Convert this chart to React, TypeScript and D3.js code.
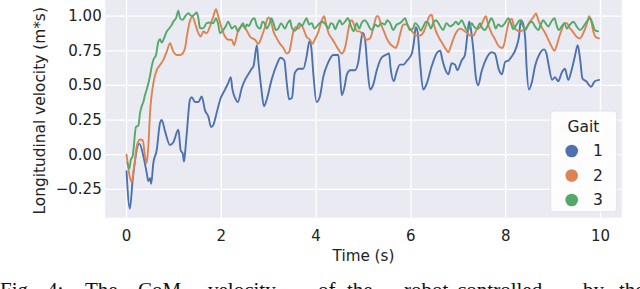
import React from 'react';
import * as d3 from 'd3';

// Gait 1..3 longitudinal CoM velocity, [time (s), velocity]
const gait1: [number, number][] = [
  [0.0, -0.12], [0.07, -0.39], [0.13, -0.18], [0.27, 0.08], [0.355, -0.01], [0.425, -0.13],
  [0.46, -0.19], [0.5, -0.17], [0.52, -0.21], [0.566, -0.06], [0.636, 0.03], [0.707, 0.23],
  [0.742, 0.25], [0.812, 0.17], [0.918, 0.07], [0.988, 0.09], [1.094, 0.18], [1.143, 0.03],
  [1.185, 0.01], [1.213, -0.05], [1.234, 0.01], [1.27, 0.15], [1.34, 0.4], [1.375, 0.415],
  [1.445, 0.38], [1.515, 0.38], [1.586, 0.42], [1.656, 0.32], [1.727, 0.275], [1.783, 0.2],
  [1.832, 0.215], [1.9, 0.3], [1.973, 0.395], [2.078, 0.47], [2.15, 0.52], [2.2, 0.56],
  [2.23, 0.48], [2.29, 0.41], [2.35, 0.38], [2.43, 0.48], [2.5, 0.54], [2.57, 0.58],
  [2.64, 0.62], [2.68, 0.64], [2.75, 0.79], [2.78, 0.68], [2.84, 0.49], [2.9, 0.35],
  [2.96, 0.4], [3.06, 0.54], [3.17, 0.65], [3.25, 0.7], [3.33, 0.68], [3.38, 0.52],
  [3.43, 0.4], [3.49, 0.41], [3.55, 0.59], [3.64, 0.62], [3.73, 0.62], [3.8, 0.71],
  [3.86, 0.82], [3.9, 0.77], [3.94, 0.59], [4.01, 0.38], [4.08, 0.42], [4.15, 0.56],
  [4.26, 0.67], [4.36, 0.72], [4.47, 0.72], [4.5, 0.61], [4.54, 0.43], [4.6, 0.49],
  [4.65, 0.58], [4.72, 0.61], [4.82, 0.61], [4.89, 0.67], [4.94, 0.8], [4.98, 0.88],
  [5.03, 0.84], [5.08, 0.64], [5.14, 0.47], [5.2, 0.5], [5.28, 0.61], [5.38, 0.7],
  [5.47, 0.72], [5.54, 0.73], [5.57, 0.63], [5.64, 0.53], [5.7, 0.6], [5.77, 0.65],
  [5.84, 0.65], [5.92, 0.68], [6.02, 0.73], [6.07, 0.83], [6.1, 0.92], [6.14, 0.89],
  [6.19, 0.68], [6.26, 0.47], [6.33, 0.51], [6.44, 0.64], [6.56, 0.74], [6.62, 0.75],
  [6.66, 0.69], [6.71, 0.63], [6.79, 0.58], [6.86, 0.66], [6.93, 0.65], [6.98, 0.61],
  [7.07, 0.68], [7.14, 0.72], [7.19, 0.86], [7.23, 0.96], [7.26, 0.92], [7.32, 0.75],
  [7.37, 0.56], [7.42, 0.5], [7.49, 0.6], [7.6, 0.7], [7.7, 0.74], [7.77, 0.73],
  [7.86, 0.61], [7.92, 0.58], [7.99, 0.67], [8.06, 0.68], [8.13, 0.71], [8.23, 0.78],
  [8.28, 0.85], [8.32, 0.97], [8.35, 0.96], [8.41, 0.85], [8.44, 0.64], [8.49, 0.47],
  [8.55, 0.52], [8.62, 0.64], [8.72, 0.73], [8.81, 0.76], [8.86, 0.73], [8.91, 0.64],
  [8.98, 0.54], [9.04, 0.56], [9.11, 0.53], [9.18, 0.59], [9.25, 0.62], [9.32, 0.54],
  [9.39, 0.61], [9.46, 0.71], [9.52, 0.79], [9.57, 0.69], [9.62, 0.55], [9.7, 0.53],
  [9.8, 0.49], [9.88, 0.53], [9.97, 0.54],
];

const gait2: [number, number][] = [
  [0.0, 0.0], [0.109, -0.195], [0.158, -0.09], [0.215, 0.06], [0.285, 0.11], [0.341, 0.105],
  [0.39, -0.01], [0.426, -0.06], [0.46, 0.06], [0.496, 0.3], [0.566, 0.515], [0.637, 0.61],
  [0.707, 0.648], [0.777, 0.684], [0.848, 0.744], [0.918, 0.804], [0.988, 0.744], [1.058, 0.72],
  [1.129, 0.72], [1.185, 0.732], [1.234, 0.768], [1.284, 0.877], [1.34, 0.968], [1.396, 0.997],
  [1.445, 0.949], [1.516, 0.877], [1.565, 0.853], [1.62, 0.889], [1.69, 0.877], [1.76, 0.925],
  [1.83, 0.997], [1.888, 1.05], [1.937, 0.997], [2.008, 0.913], [2.078, 0.853], [2.15, 0.83],
  [2.22, 0.83], [2.27, 0.79], [2.32, 0.85], [2.37, 0.91], [2.46, 0.93], [2.53, 0.9],
  [2.61, 0.85], [2.71, 0.83], [2.78, 0.8], [2.84, 0.84], [2.92, 0.92], [2.99, 0.99],
  [3.05, 0.96], [3.1, 0.89], [3.17, 0.84], [3.24, 0.8], [3.31, 0.77], [3.38, 0.73],
  [3.43, 0.74], [3.47, 0.8], [3.52, 0.89], [3.57, 0.92], [3.63, 0.91], [3.68, 0.94],
  [3.73, 0.91], [3.8, 0.85], [3.87, 0.83], [3.92, 0.8], [3.97, 0.83], [4.05, 0.89],
  [4.12, 0.97], [4.17, 1.0], [4.2, 0.96], [4.26, 0.88], [4.33, 0.84], [4.4, 0.8],
  [4.47, 0.76], [4.54, 0.73], [4.6, 0.76], [4.65, 0.84], [4.69, 0.92], [4.75, 0.97],
  [4.82, 0.92], [4.87, 0.89], [4.92, 0.89], [4.99, 0.86], [5.07, 0.83], [5.14, 0.84],
  [5.21, 0.92], [5.28, 1.0], [5.31, 1.0], [5.36, 0.95], [5.42, 0.9], [5.49, 0.84],
  [5.56, 0.8], [5.63, 0.78], [5.68, 0.77], [5.73, 0.81], [5.78, 0.88], [5.84, 0.94],
  [5.91, 0.94], [5.98, 0.91], [6.05, 0.88], [6.12, 0.86], [6.19, 0.86], [6.26, 0.88],
  [6.33, 0.94], [6.39, 1.0], [6.44, 1.01], [6.47, 0.96], [6.53, 0.89], [6.6, 0.84],
  [6.67, 0.8], [6.74, 0.76], [6.79, 0.74], [6.84, 0.78], [6.9, 0.84], [6.97, 0.89],
  [7.04, 0.91], [7.1, 0.9], [7.18, 0.88], [7.25, 0.86], [7.32, 0.86], [7.38, 0.9],
  [7.46, 0.92], [7.53, 0.97], [7.58, 1.0], [7.63, 0.94], [7.7, 0.88], [7.78, 0.83],
  [7.84, 0.79], [7.92, 0.77], [7.97, 0.8], [8.02, 0.89], [8.08, 0.97], [8.13, 0.98],
  [8.18, 0.92], [8.23, 0.9], [8.3, 0.89], [8.37, 0.9], [8.44, 0.92], [8.51, 0.96],
  [8.58, 0.99], [8.64, 1.02], [8.69, 0.97], [8.76, 0.92], [8.83, 0.88], [8.9, 0.83],
  [8.97, 0.78], [9.03, 0.75], [9.07, 0.78], [9.12, 0.84], [9.18, 0.9], [9.24, 0.95],
  [9.29, 0.95], [9.34, 0.92], [9.41, 0.89], [9.5, 0.85], [9.57, 0.84], [9.64, 0.88],
  [9.71, 0.94], [9.76, 1.0], [9.8, 0.97], [9.85, 0.89], [9.9, 0.85], [9.97, 0.84],
];

const gait3: [number, number][] = [
  [0.018, -0.06], [0.06, -0.1], [0.088, -0.04], [0.13, -0.01], [0.2, 0.2], [0.25, 0.21],
  [0.285, 0.3], [0.32, 0.35], [0.355, 0.38], [0.39, 0.43], [0.426, 0.47], [0.461, 0.515],
  [0.496, 0.57], [0.531, 0.636], [0.566, 0.684], [0.622, 0.72], [0.672, 0.816], [0.707, 0.833],
  [0.742, 0.809], [0.791, 0.84], [0.848, 0.889], [0.904, 0.913], [0.953, 0.937], [0.988, 0.961],
  [1.044, 0.985], [1.094, 1.04], [1.129, 0.985], [1.185, 0.973], [1.234, 0.997], [1.305, 1.021],
  [1.375, 1.0], [1.445, 1.016], [1.48, 1.026], [1.516, 0.985], [1.55, 0.913], [1.62, 0.913],
  [1.69, 0.949], [1.76, 0.954], [1.83, 0.949], [1.888, 0.985], [1.937, 0.937], [1.973, 0.877],
  [2.043, 0.901], [2.113, 0.94], [2.14, 0.96], [2.18, 0.94], [2.22, 0.91], [2.29, 0.93],
  [2.35, 0.89], [2.42, 0.93], [2.46, 0.95], [2.5, 0.91], [2.535, 0.94], [2.585, 0.93],
  [2.64, 0.97], [2.7, 0.985], [2.75, 0.93], [2.82, 0.91], [2.87, 0.96], [2.91, 0.95],
  [2.96, 0.91], [3.01, 0.94], [3.06, 0.985], [3.1, 0.95], [3.15, 0.9], [3.2, 0.91],
  [3.26, 0.95], [3.31, 0.925], [3.34, 0.91], [3.4, 0.95], [3.45, 0.97], [3.48, 0.925],
  [3.54, 0.895], [3.59, 0.91], [3.64, 0.95], [3.7, 0.93], [3.77, 0.97], [3.8, 0.985],
  [3.85, 0.94], [3.91, 0.95], [3.96, 0.91], [4.05, 0.94], [4.12, 0.96], [4.19, 0.945],
  [4.26, 0.91], [4.31, 0.95], [4.36, 0.94], [4.4, 0.905], [4.46, 0.95], [4.5, 0.97],
  [4.55, 0.94], [4.61, 0.96], [4.67, 0.985], [4.74, 0.925], [4.79, 0.89], [4.855, 0.95],
  [4.91, 0.91], [4.96, 0.95], [5.03, 0.97], [5.08, 0.95], [5.14, 0.91], [5.19, 0.9],
  [5.24, 0.94], [5.31, 0.925], [5.38, 0.95], [5.45, 0.94], [5.5, 0.97], [5.56, 0.95],
  [5.63, 0.9], [5.7, 0.94], [5.77, 0.95], [5.83, 0.97], [5.875, 0.985], [5.925, 0.94],
  [5.98, 0.9], [6.04, 0.91], [6.09, 0.95], [6.16, 0.925], [6.21, 0.895], [6.26, 0.925],
  [6.32, 0.96], [6.37, 0.95], [6.42, 0.91], [6.47, 0.95], [6.53, 0.97], [6.58, 0.95],
  [6.63, 0.92], [6.68, 0.9], [6.75, 0.95], [6.825, 0.925], [6.895, 0.94], [6.95, 0.96],
  [7.0, 0.94], [7.07, 0.97], [7.12, 0.94], [7.18, 0.9], [7.23, 0.91], [7.28, 0.95],
  [7.33, 0.925], [7.39, 0.91], [7.46, 0.95], [7.49, 0.925], [7.56, 0.9], [7.63, 0.94],
  [7.7, 0.985], [7.74, 0.96], [7.79, 0.91], [7.84, 0.94], [7.91, 0.925], [7.985, 0.95],
  [8.055, 0.985], [8.11, 0.95], [8.16, 0.905], [8.23, 0.94], [8.3, 0.97], [8.37, 0.925],
  [8.42, 0.9], [8.48, 0.94], [8.55, 0.96], [8.62, 0.925], [8.69, 0.9], [8.74, 0.94],
  [8.79, 0.97], [8.84, 0.95], [8.9, 0.925], [8.96, 0.96], [9.03, 0.985], [9.07, 0.94],
  [9.12, 0.9], [9.18, 0.925], [9.24, 0.95], [9.29, 0.91], [9.36, 0.94], [9.43, 0.96],
  [9.5, 0.925], [9.57, 0.9], [9.64, 0.925], [9.71, 0.96], [9.78, 0.985], [9.83, 0.95],
  [9.88, 0.9], [9.95, 0.89],
];

const seriesNames = ['1', '2', '3'];
const seriesColors = ['#4C72B0', '#DD8452', '#55A868'];
const xTicks = [0, 2, 4, 6, 8, 10];
const yTicks = [-0.25, 0, 0.25, 0.5, 0.75, 1.0];
const captionWords = ['Fig.', '4:', 'The', 'CoM', 'velocity', 'of', 'the', 'robot', 'controlled', 'by', 'the'];
const captionX = [0, 47, 85, 138, 208, 318, 347, 404, 457, 583, 619];

const W = 640;
const H = 289;
const font = '"DejaVu Sans", sans-serif';

const App: React.FC = () => {
  const x = d3.scaleLinear().domain([-0.45, 10.45]).range([105.2, 621.8]);
  const y = d3.scaleLinear().domain([-0.455, 1.16]).range([217.7, -6]);
  const [x0, x1] = x.range();
  const [yb, yt] = y.range();

  const line = d3.line<[number, number]>()
    .x(d => x(d[0]))
    .y(d => y(d[1]))
    .curve(d3.curveMonotoneX);

  const allSeries = [gait1, gait2, gait3];

  return (
    <svg width={W} height={H} style={{ position: 'absolute', left: 0, top: 0, background: '#fff' }}>
      {/* plot background */}
      <rect x={x0} y={yt} width={x1 - x0} height={yb - yt} fill="#EAEAF2" />
      {xTicks.map(t => (
        <line key={'gx' + t} x1={x(t)} x2={x(t)} y1={yt} y2={yb} stroke="#fff" strokeWidth={1.3} />
      ))}
      {yTicks.map(t => (
        <line key={'gy' + t} x1={x0} x2={x1} y1={y(t)} y2={y(t)} stroke="#fff" strokeWidth={1.3} />
      ))}

      {allSeries.map((s, i) => (
        <path key={'s' + i} d={line(s) || ''} fill="none" stroke={seriesColors[i]}
          strokeWidth={1.9} strokeLinejoin="round" strokeLinecap="round" />
      ))}

      {/* tick labels */}
      {xTicks.map(t => (
        <text key={'tx' + t} x={x(t)} y={240.7} textAnchor="middle" fontFamily={font} fontSize={15} fill="#222">
          {t}
        </text>
      ))}
      {yTicks.map(t => (
        <text key={'ty' + t} x={101.7} y={y(t)} dy="0.33em" textAnchor="end" fontFamily={font} fontSize={15} fill="#222">
          {d3.format('.2f')(t)}
        </text>
      ))}

      {/* axis labels */}
      <text x={(x0 + x1) / 2} y={261} textAnchor="middle" fontFamily={font} fontSize={15.2} fill="#222">
        Time (s)
      </text>
      <text transform={`translate(44.5, ${(yb + 0) / 2 + 2}) rotate(-90)`} textAnchor="middle"
        fontFamily={font} fontSize={15.4} fill="#222">
        Longitudinal velocity (m*s)
      </text>

      {/* legend */}
      <g>
        <rect x={550.7} y={111} width={66} height={100.7} rx={3} fill="#fff" fillOpacity={0.9} stroke="#ddd" strokeWidth={0.8} />
        <text x={583.5} y={131.5} textAnchor="middle" fontFamily={font} fontSize={15.5} fill="#222">Gait</text>
        {seriesNames.map((n, i) => (
          <g key={'lg' + n}>
            <circle cx={571.7} cy={151 + i * 24.5} r={6.3} fill={seriesColors[i]} />
            <text x={593} y={151 + i * 24.5} dy="0.35em" fontFamily={font} fontSize={15.5} fill="#222">{n}</text>
          </g>
        ))}
      </g>

      {/* caption (cut off at the bottom of the image) */}
      {captionWords.map((w, i) => (
        <text key={'c' + i} x={captionX[i]} y={297} fontFamily='"Liberation Serif", serif' fontSize={21} fill="#111">
          {w}
        </text>
      ))}
    </svg>
  );
};

export default App;
